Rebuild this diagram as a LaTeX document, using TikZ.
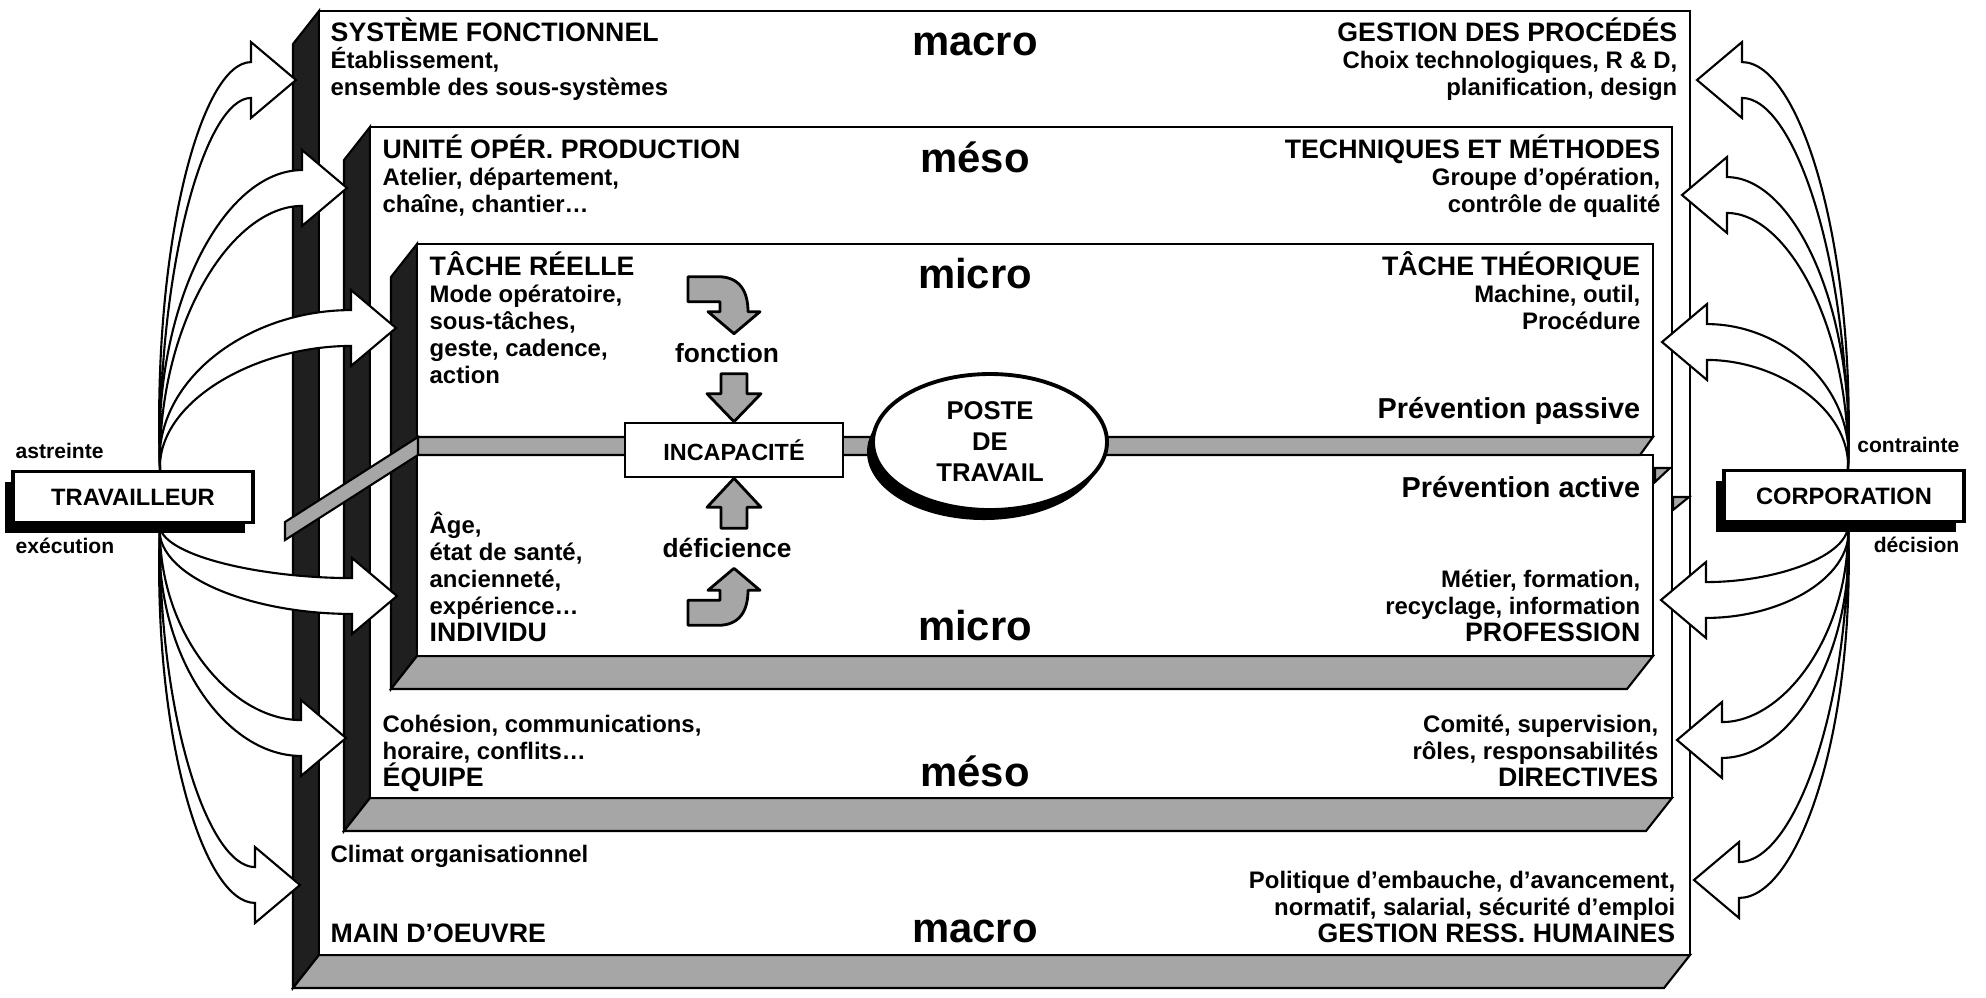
\documentclass[tikz,border=0pt]{standalone}
\usepackage{fontspec}
\setmainfont{Liberation Sans}
\usetikzlibrary{calc,shapes.geometric,shadows}

\newdimen\gfdim
% grande fleche courbe : de l'origine #1 a la pointe #2
\newcommand{\grandeFleche}[2]{%
  \pgfextractx{\gfdim}{\pgfpointanchor{#1}{center}}\edef\gfox{\the\gfdim}%
  \pgfextracty{\gfdim}{\pgfpointanchor{#1}{center}}\edef\gfoy{\the\gfdim}%
  \pgfextractx{\gfdim}{\pgfpointanchor{#2}{center}}\edef\gftx{\the\gfdim}%
  \pgfextracty{\gfdim}{\pgfpointanchor{#2}{center}}\edef\gfty{\the\gfdim}%
  \pgfmathsetmacro\gfd{sign(\gftx-\gfox)}%
  \pgfmathsetmacro\gfv{sign(\gfty-\gfoy)}%
  \pgfmathsetmacro\gfbx{\gftx-\gfd*12.8}%
  \pgfmathsetmacro\gfyo{\gfty+\gfv*5.1}%
  \pgfmathsetmacro\gfyi{\gfty-\gfv*5.1}%
  \pgfmathsetmacro\gfya{\gfty+\gfv*10.8}%
  \pgfmathsetmacro\gfyb{\gfty-\gfv*10.8}%
  \pgfmathsetmacro\gfax{\gfox-\gfd*2.3}%
  \pgfmathsetmacro\gfay{\gfoy+0.55*(\gfyo-\gfoy)}%
  \pgfmathsetmacro\gfcx{\gfbx-0.55*(\gfbx-\gfox)}%
  \pgfmathsetmacro\gfex{\gfbx-0.5*(\gfbx-\gfox)}%
  \pgfmathsetmacro\gfgx{\gfox-\gfd*0.8}%
  \pgfmathsetmacro\gfgy{\gfoy+0.55*(\gfyi-\gfoy)}%
  \draw[grande] (\gfox,\gfoy) .. controls (\gfax pt,\gfay pt) and (\gfcx pt,\gfyo pt) .. (\gfbx pt,\gfyo pt)
    -- (\gfbx pt,\gfya pt) -- (\gftx,\gfty) -- (\gfbx pt,\gfyb pt) -- (\gfbx pt,\gfyi pt)
    .. controls (\gfex pt,\gfyi pt) and (\gfgx pt,\gfgy pt) .. (\gfox,\gfoy) -- cycle;%
}
\newcommand{\titre}[1]{{\fontsize{7.6}{7.68}\selectfont #1}}

\tikzset{
  face/.style = {draw=black, line width=0.6pt, fill=white},% face avant
  cote/.style = {draw=black, line width=0.6pt, fill=black!88},% face gauche
  fond/.style = {draw=black, line width=0.6pt, fill=black!35},% face du dessous
  texteG/.style = {align=left, anchor=base west, inner sep=0pt,
    font={\fontsize{6.8}{7.68}\selectfont\bfseries\lineskiplimit=-20pt}},
  texteD/.style = {align=right, anchor=base east, inner sep=0pt,
    font={\fontsize{6.8}{7.68}\selectfont\bfseries\lineskiplimit=-20pt}},
  niveau/.style = {anchor=base, inner sep=0pt, font=\fontsize{11.9}{12}\selectfont\bfseries},
  prev/.style = {anchor=base east, inner sep=0pt, font=\fontsize{8.2}{9}\selectfont\bfseries},
  acteur/.style = {draw=black, line width=0.9pt, fill=white, inner sep=0pt,
    minimum width=24mm, minimum height=5.1mm, font=\fontsize{6.74}{7}\selectfont\bfseries,
    drop shadow={shadow xshift=-0.8mm, shadow yshift=-1mm, fill=black, opacity=1}},
  etiq/.style = {inner sep=0pt, font=\fontsize{6}{7}\selectfont\bfseries},
  etiqM/.style = {anchor=base, inner sep=0pt, font=\fontsize{7.5}{8}\selectfont\bfseries},
  incap/.style = {draw=black, line width=0.75pt, fill=white, inner sep=0pt,
    minimum width=21.8mm, minimum height=5.4mm, font=\fontsize{6.66}{7}\selectfont\bfseries},
  poste/.style = {ellipse, draw=black, line width=1.1pt, fill=white, inner sep=0pt,
    minimum width=23.4mm, minimum height=13.6mm, align=center,
    font={\fontsize{7.3}{8.82}\selectfont\bfseries},
    drop shadow={shadow xshift=-0.6mm, shadow yshift=-1mm, fill=black, opacity=1}},
  petite/.style = {draw=black, line width=0.8pt, fill=black!35, line join=round},
  grande/.style = {draw=black, line width=0.6pt, fill=white, line join=miter}
}

\begin{document}
\begin{tikzpicture}[x=0.1mm,y=-0.1mm]
\useasboundingbox (0,0) rectangle (1986,997);

% niveau macro
\draw[cote] (319,11) -- (293,44) -- (293,988) -- (319,955) -- cycle;
\draw[fond] (319,955) -- (1690,955) -- (1664,988) -- (293,988) -- cycle;
\draw[face] (319,11) rectangle (1690,955);
% niveau meso
\draw[cote] (370,127) -- (344,160) -- (344,831) -- (370,798) -- cycle;
\draw[fond] (370,798) -- (1672,798) -- (1646,831) -- (344,831) -- cycle;
\draw[face] (370,127) rectangle (1672,798);
% niveau micro
\draw[cote] (417,244) -- (391,277) -- (391,689) -- (417,656) -- cycle;
\draw[fond] (417,656) -- (1653,656) -- (1627,689) -- (391,689) -- cycle;
\draw[face] (417,244) rectangle (1653,437);
\draw[face] (417,455) rectangle (1653,656);
% bande mediane
\draw[fond] (417,437) -- (1653,437) -- (1640,455) -- (417,455) -- cycle;
\draw[fond] (418,437) -- (285,522) -- (285,540) -- (418,455) -- cycle;
\draw[fond] (1655,468) -- (1670,468) -- (1655,482) -- cycle;
\draw[fond] (1673,497) -- (1689,497) -- (1673,510) -- cycle;

% textes macro haut (ancre = ligne de base de la derniere ligne)
\node[texteG] (sysFonc) at (330,95) {\titre{SYSTÈME FONCTIONNEL}\\Établissement,\\ensemble des sous-systèmes};
\node[niveau] (macroH) at (975,55) {macro};
\node[texteD] (gestProc) at (1678,95) {\titre{GESTION DES PROCÉDÉS}\\Choix technologiques, R \& D,\\planification, design};
% meso haut
\node[texteG] (unitProd) at (382,212) {\titre{UNITÉ OPÉR. PRODUCTION}\\Atelier, département,\\chaîne, chantier…};
\node[niveau] (mesoH) at (975,172) {méso};
\node[texteD] (techMeth) at (1661,212) {\titre{TECHNIQUES ET MÉTHODES}\\Groupe d’opération,\\contrôle de qualité};
% micro haut
\node[texteG] (tacheReel) at (429,383) {\titre{TÂCHE RÉELLE}\\Mode opératoire,\\sous-tâches,\\geste, cadence,\\action};
\node[niveau] (microH) at (975,288) {micro};
\node[texteD] (tacheTheo) at (1641,329) {\titre{TÂCHE THÉORIQUE}\\Machine, outil,\\Procédure};
\node[prev] (prevPas) at (1641,418) {Prévention passive};
% micro bas
\node[prev] (prevAct) at (1641,497) {Prévention active};
\node[texteG] (individu) at (429,641) {Âge,\\état de santé,\\ancienneté,\\expérience…\\\titre{INDIVIDU}};
\node[niveau] (microB) at (975,640) {micro};
\node[texteD] (profess) at (1641,641) {Métier, formation,\\recyclage, information\\\titre{PROFESSION}};
% meso bas
\node[texteG] (equipe) at (382,786) {Cohésion, communications,\\horaire, conflits…\\\titre{ÉQUIPE}};
\node[niveau] (mesoB) at (975,786) {méso};
\node[texteD] (directiv) at (1659,786) {Comité, supervision,\\rôles, responsabilités\\\titre{DIRECTIVES}};
% macro bas
\node[texteG] (climat) at (330,862) {Climat organisationnel};
\node[texteG] (mainOeuv) at (330,942) {\titre{MAIN D’OEUVRE}};
\node[niveau] (macroB) at (975,942) {macro};
\node[texteD] (gestRH) at (1676,942) {Politique d’embauche, d’avancement,\\normatif, salarial, sécurité d’emploi\\\titre{GESTION RESS. HUMAINES}};

% poste de travail
\node[incap] (incap) at (734,450) {INCAPACITÉ};
\node[poste] (poste) at (990,442) {POSTE\\DE\\TRAVAIL};
\begin{scope}[shift={(incap.north)}]
  \draw[petite] (-46,-145) -- (-16,-145) .. controls (6,-145) and (14,-130) .. (14,-110) -- (26,-110)
    -- (0,-88) -- (-26,-110) -- (-14,-110) -- (-14,-120) -- (-46,-120) -- cycle;
  \draw[petite] (-13,-48) -- (13,-48) -- (13,-28) -- (27,-28) -- (0,0) -- (-27,-28) -- (-13,-28) -- cycle;
\end{scope}
\begin{scope}[shift={(incap.south)}]
  \draw[petite] (0,0) -- (27,29) -- (13,29) -- (13,50) -- (-13,50) -- (-13,29) -- (-27,29) -- cycle;
  \draw[petite] (-46,147) -- (-16,147) .. controls (6,147) and (14,132) .. (14,112) -- (26,112)
    -- (0,90) -- (-26,112) -- (-14,112) -- (-14,122) -- (-46,122) -- cycle;
\end{scope}
\node[etiqM] (fonction) at (727,362) {fonction};
\node[etiqM] (deficience) at (727,557) {déficience};

% acteurs
\node[acteur] (trav) at (133,497) {TRAVAILLEUR};
\node[acteur] (corp) at (1844,496) {CORPORATION};
\node[etiq, anchor=base west] (astreinte) at (15,458) {astreinte};
\node[etiq, anchor=base west] (execution) at (15,553) {exécution};
\node[etiq, anchor=base east] (contrainte) at (1960,452) {contrainte};
\node[etiq, anchor=base east] (decision) at (1960,552) {décision};

\coordinate (travH) at ($(trav.north)+(27,0)$);
\coordinate (travB) at ($(trav.south)+(27,0)$);
\coordinate (corpH) at ($(corp.north)+(4,0)$);
\coordinate (corpB) at ($(corp.south)+(4,0)$);
\coordinate (cSys) at (296,80);
\coordinate (cUnit) at (347,188);
\coordinate (cTache) at (396,328);
\coordinate (cIndiv) at (397,596);
\coordinate (cEquip) at (346,738);
\coordinate (cMain) at (300,885);
\coordinate (cGest) at (1697,80);
\coordinate (cTech) at (1682,195);
\coordinate (cTheo) at (1662,342);
\coordinate (cProf) at (1661,600);
\coordinate (cDir) at (1677,740);
\coordinate (cRH) at (1694,880);

\grandeFleche{travH}{cSys}
\grandeFleche{travH}{cUnit}
\grandeFleche{travH}{cTache}
\grandeFleche{travB}{cIndiv}
\grandeFleche{travB}{cEquip}
\grandeFleche{travB}{cMain}
\grandeFleche{corpH}{cGest}
\grandeFleche{corpH}{cTech}
\grandeFleche{corpH}{cTheo}
\grandeFleche{corpB}{cProf}
\grandeFleche{corpB}{cDir}
\grandeFleche{corpB}{cRH}
\end{tikzpicture}
\end{document}
